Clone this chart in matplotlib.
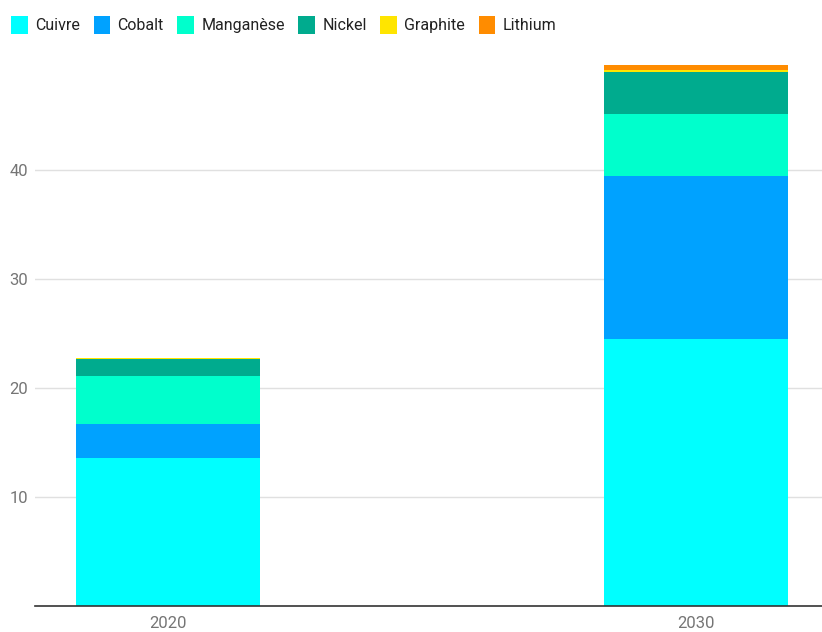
import numpy as np
import matplotlib.pyplot as plt

plt.rcParams['font.family'] = ['Roboto', 'DejaVu Sans']

years = ["2020", "2030"]
minerals = ["Cuivre", "Cobalt", "Manganèse", "Nickel", "Graphite", "Lithium"]
values = {
    "Cuivre":    [13.6, 24.5],
    "Cobalt":    [3.1, 14.95],
    "Manganèse": [4.4, 5.65],
    "Nickel":    [1.55, 3.85],
    "Graphite":  [0.08, 0.2],
    "Lithium":   [0.04, 0.5],
}
colors = ["#00FFFF", "#00A2FF", "#00FFCC", "#00AB8E", "#FFE500", "#FF8C00"]

fig = plt.figure(figsize=(8.22, 6.32), dpi=100)
ax = fig.add_axes([0.0426, 0.0411, 0.9574, 0.8592])

x = np.arange(len(years))
bottom = np.zeros(len(years))
for name, col in zip(minerals, colors):
    v = np.array(values[name])
    ax.bar(x, v, bottom=bottom, width=0.349, color=col, label=name, zorder=3)
    bottom += v

ax.set_xlim(-0.252, 1.239)
ax.set_ylim(0, 49.8)
ax.set_yticks([10, 20, 30, 40])
ax.set_xticks(x)
ax.set_xticklabels(years)
ax.tick_params(axis='both', length=0, labelsize=12, colors='#757575')
ax.tick_params(axis='y', pad=5)
ax.tick_params(axis='x', pad=7)
ax.grid(axis='y', color='#e0e0e0', linewidth=1, zorder=0)
for s in ['top', 'right', 'left']:
    ax.spines[s].set_visible(False)
ax.spines['bottom'].set_color('#333333')
ax.spines['bottom'].set_linewidth(1.2)
ax.spines['bottom'].set_zorder(4)

leg = fig.legend(loc='upper left', bbox_to_anchor=(0.0, 0.993), ncol=6, frameon=False,
                 handlelength=1.05, handleheight=1.35, handletextpad=0.45, columnspacing=0.85,
                 fontsize=11.5, borderaxespad=0.3)
for t in leg.get_texts():
    t.set_color('#222222')

plt.savefig("out.png", dpi=100)
